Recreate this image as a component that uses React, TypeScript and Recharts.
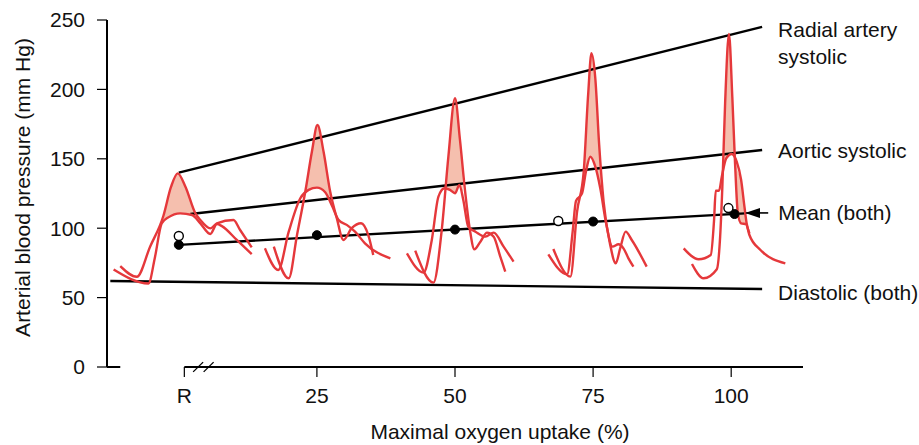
import { Area, ComposedChart, Line, ReferenceLine, XAxis, YAxis } from 'recharts'

const FONT = '"Liberation Sans", Arial, Helvetica, sans-serif'
const RED = '#e5383b'
const SHADE = '#f5bfae'

const xTicks = [1, 25, 50, 75, 100]
const xTickLabels = ['R', '25', '50', '75', '100']
const yTicks = [0, 50, 100, 150, 200, 250]

// straight trend lines, [x, mmHg] at both ends
const radialSystolic = [[0, 140], [105.6, 245]]
const aorticSystolic = [[2.1, 110.2], [105.6, 156.3]]
const meanBoth = [[0, 88], [102.5, 110.7]]
const diastolicBoth = [[-12.4, 62], [105.6, 56.2]]
const meanArrow = [[106.7, 111], [102.5, 111]]

const meanDots = [[0, 88], [25, 95], [50, 99], [75, 104.8], [100.6, 110.2]]
const openDots = [[0, 94.4], [68.7, 105.2], [99.5, 114.5]]

// pressure waves: [x, mmHg]
const restRadial = [[-10.6, 72.7], [-7.6, 65], [-5.2, 86.7], [-2.8, 108.8], [-1.4, 129.9], [-0.2, 139.5], [1.2, 129.9], [3, 110.7], [3.9, 105.9], [5.7, 99.9], [6.9, 103.5], [9.9, 105.9], [11.1, 98.7], [13.2, 86.2]]
const restAortic = [[-11.8, 70.3], [-5.5, 60.2], [-4.3, 79.5], [-3.1, 103.5], [-1.9, 107.8], [0.25, 110.7], [2.4, 109.5], [3.9, 103.5], [5.7, 95.8], [6.9, 103], [7.8, 101.5], [10.5, 91.5], [13.2, 81.4]]
const restShade = [[-2.8, 106, 108.8], [-1.4, 108.5, 129.9], [-0.2, 110.3, 139.5], [1.2, 110.6, 129.9], [3, 108.5, 110.7]]

const w25Radial = [[17.2, 86.7], [19.9, 63.9], [21.4, 95.1], [22.9, 126.4], [24.1, 155.2], [25.1, 174.4], [26.2, 155.2], [27.4, 126.4], [28.6, 107.2], [29.8, 91.5], [31.3, 100], [33, 103.6], [34.3, 95.1], [35.2, 80.7]]
const w25Aortic = [[15.6, 85.5], [18, 69.9], [19.9, 97.5], [22, 121.6], [23.5, 127.6], [25, 129.2], [26.5, 125.9], [27.8, 115.6], [28.9, 106], [30.4, 102.4], [31.9, 97.5], [33.7, 89.1], [38.3, 78.3]]
const w25Shade = [[22.9, 125.5, 126.4], [24.1, 128.5, 155.2], [25.1, 129.2, 174.4], [26.2, 126.5, 155.2], [27.4, 119, 126.4]]

const w50Radial = [[42.8, 83.8], [46.1, 60.8], [47.6, 98.7], [48.8, 151.6], [50, 193.6], [50.9, 163.6], [51.8, 127.6], [52.7, 98.7], [53.5, 84.8], [54.6, 90.3], [55.8, 96.8], [57, 93.9], [58.2, 79.5], [59.1, 68.7]]
const w50Aortic = [[41.3, 81.9], [44.3, 68], [45.8, 91.5], [47, 122.8], [48.1, 128.8], [49.1, 127.6], [50, 125.2], [50.8, 131.2], [51.5, 120.3], [52.4, 101.1], [53.7, 97.5], [55.5, 93.9], [57, 96.8], [58.8, 86.7], [60.6, 75.9]]
const w50Shade = [[48.3, 129, 131], [48.8, 128.5, 151.6], [50, 126, 193.6], [50.9, 130, 163.6], [51.4, 126, 143]]

const w75Radial = [[67.8, 85], [70.9, 65.1], [72.1, 111.9], [73.3, 140.7], [74.1, 196], [74.7, 226], [75.4, 208], [76.1, 160], [76.9, 119.1], [78.1, 87.9], [79.1, 74.7], [79.9, 85.5], [80.9, 97.5], [82, 91.5], [84.7, 72.3]]
const w75Aortic = [[66.9, 81.2], [70.3, 66.8], [71.3, 97.5], [71.9, 119.6], [73, 125.1], [73.7, 140.7], [74.5, 151.5], [75.4, 144.3], [76.3, 128.7], [77.3, 104.7], [78.5, 86.7], [79.6, 88.4], [80.5, 85.5], [81.4, 78.3], [82.3, 72.3]]
const w75Shade = [[73.1, 127, 136], [73.3, 130, 140.7], [74.1, 147, 196], [74.7, 151.5, 226], [75.4, 144.3, 208], [76.1, 133, 160], [76.6, 122, 133]]

const w100Radial = [[92.9, 74.2], [95, 63.9], [97.4, 70.4], [98, 93.9], [98.4, 129.9], [98.9, 190], [99.6, 239.9], [100.2, 194.8], [100.7, 146.7], [101.2, 110.7], [101.8, 103.5], [102.7, 103], [103.3, 95.1], [105.3, 84.3], [109.8, 74.7]]
const w100Aortic = [[91.4, 85.5], [94.1, 77.6], [96.3, 80.7], [96.9, 105.9], [97.2, 127], [97.8, 127], [98.3, 137.1], [99.1, 150.3], [100.1, 153.5], [101, 147.9], [101.8, 134.7], [102.4, 115.5], [102.8, 103.5], [103.3, 96.3]]
const w100Shade = [[98.6, 142, 154], [98.9, 148, 190], [99.6, 152, 239.9], [100.2, 153, 194.8], [100.7, 149, 146.7], [101.2, 141, 110.7], [101.8, 134.7, 103.5], [102.4, 115.5, 103.2], [102.8, 103.5, 103]]

const waves = [
  { radial: restRadial, aortic: restAortic, shade: restShade },
  { radial: w25Radial, aortic: w25Aortic, shade: w25Shade },
  { radial: w50Radial, aortic: w50Aortic, shade: w50Shade },
  { radial: w75Radial, aortic: w75Aortic, shade: w75Shade },
  { radial: w100Radial, aortic: w100Aortic, shade: w100Shade },
]

const toXY = (pts: number[][]) => pts.map(([x, y]) => ({ x, y }))
const toRange = (pts: number[][]) => pts.map(([x, lo, hi]) => ({ x, range: [lo, hi] }))

const textStyle = { fontFamily: FONT, fontSize: 21, fill: '#111' }

// label drawn beside the last point of a line
const endLabel = (lines: string[], dx: number, dy: number, at: number) => (p: any) => {
  if (p.index !== at) return <g key={`e${p.index}`} />
  return (
    <text key={`e${p.index}`} x={p.cx + dx} y={p.cy + dy} style={textStyle}>
      {lines.map((t, i) => (
        <tspan key={t} x={p.cx + dx} dy={i === 0 ? 0 : 27}>
          {t}
        </tspan>
      ))}
    </text>
  )
}

const arrowDot = (p: any) => {
  if (p.index === 0) return endLabel(['Mean (both)'], 10, 7, 0)(p)
  return (
    <polygon
      key="tip"
      points={`${p.cx},${p.cy} ${p.cx + 15},${p.cy - 5} ${p.cx + 15},${p.cy + 5}`}
      fill="#000"
    />
  )
}

const XTitle = ({ viewBox }: any) => (
  <text x={viewBox.x + viewBox.width / 2 + 45} y={viewBox.y + 72} textAnchor="middle" style={textStyle}>
    Maximal oxygen uptake (%)
  </text>
)

const YTitle = ({ viewBox }: any) => {
  const cx = viewBox.x + 22
  const cy = viewBox.y + viewBox.height / 2 - 6
  return (
    <text x={cx} y={cy} textAnchor="middle" dominantBaseline="central" transform={`rotate(-90, ${cx}, ${cy})`} style={textStyle}>
      Arterial blood pressure (mm Hg)
    </text>
  )
}

export default function App() {
  return (
    <div style={{ position: 'absolute', left: 0, top: 0, width: 919, height: 445, background: '#fff' }}>
      <ComposedChart width={919} height={445} margin={{ top: 20, right: 116, bottom: 0, left: 0 }}>
        <XAxis
          type="number"
          dataKey="x"
          domain={[-13, 113]}
          ticks={xTicks}
          interval={0}
          tickFormatter={(v: number) => xTickLabels[xTicks.indexOf(v)]}
          axisLine={false}
          tickSize={10}
          tickMargin={11}
          tickLine={{ stroke: '#000', strokeWidth: 1.2 }}
          tick={textStyle}
          height={78}
          label={{ content: XTitle }}
        />
        <YAxis
          type="number"
          domain={[0, 250]}
          ticks={yTicks}
          interval={0}
          width={107}
          axisLine={{ stroke: '#000', strokeWidth: 2 }}
          tickLine={{ stroke: '#000', strokeWidth: 1.2 }}
          tickSize={10}
          tickMargin={12}
          tick={textStyle}
          label={{ content: YTitle }}
        />

        <ReferenceLine segment={[{ x: 1, y: 0 }, { x: 113, y: 0 }]} stroke="#000" strokeWidth={2} ifOverflow="visible" />
        <ReferenceLine segment={[{ x: -13, y: 0 }, { x: -10.6, y: 0 }]} stroke="#000" strokeWidth={2} ifOverflow="visible" />
        <ReferenceLine segment={[{ x: 2.6, y: -3.5 }, { x: 4.4, y: 3.5 }]} stroke="#000" strokeWidth={1.3} ifOverflow="visible" />
        <ReferenceLine segment={[{ x: 4.5, y: -3.5 }, { x: 6.3, y: 3.5 }]} stroke="#000" strokeWidth={1.3} ifOverflow="visible" />

        <Line data={toXY(radialSystolic)} dataKey="y" type="linear" stroke="#000" strokeWidth={2.4} dot={endLabel(['Radial artery', 'systolic'], 16, 10, 1)} activeDot={false} isAnimationActive={false} />
        <Line data={toXY(aorticSystolic)} dataKey="y" type="linear" stroke="#000" strokeWidth={2.4} dot={endLabel(['Aortic systolic'], 16, 8, 1)} activeDot={false} isAnimationActive={false} />
        <Line data={toXY(meanBoth)} dataKey="y" type="linear" stroke="#000" strokeWidth={2.4} dot={false} activeDot={false} isAnimationActive={false} />
        <Line data={toXY(diastolicBoth)} dataKey="y" type="linear" stroke="#000" strokeWidth={2.4} dot={endLabel(['Diastolic (both)'], 16, 11, 1)} activeDot={false} isAnimationActive={false} />
        <Line data={toXY(meanArrow)} dataKey="y" type="linear" stroke="#000" strokeWidth={1.6} dot={arrowDot} activeDot={false} isAnimationActive={false} />

        {waves.map((w, i) => (
          <Area key={`s${i}`} data={toRange(w.shade)} dataKey="range" type="monotone" stroke="none" fill={SHADE} fillOpacity={1} activeDot={false} isAnimationActive={false} />
        ))}
        {waves.map((w, i) => (
          <Line key={`a${i}`} data={toXY(w.aortic)} dataKey="y" type="monotone" stroke={RED} strokeWidth={2.4} dot={false} activeDot={false} isAnimationActive={false} />
        ))}
        {waves.map((w, i) => (
          <Line key={`r${i}`} data={toXY(w.radial)} dataKey="y" type="monotone" stroke={RED} strokeWidth={2.4} dot={false} activeDot={false} isAnimationActive={false} />
        ))}

        <Line data={toXY(meanDots)} dataKey="y" stroke="none" dot={{ r: 4.5, fill: '#000', stroke: '#000', strokeWidth: 1 }} activeDot={false} isAnimationActive={false} />
        <Line data={toXY(openDots)} dataKey="y" stroke="none" dot={{ r: 4.5, fill: '#fff', stroke: '#000', strokeWidth: 1.4 }} activeDot={false} isAnimationActive={false} />
      </ComposedChart>
    </div>
  )
}
